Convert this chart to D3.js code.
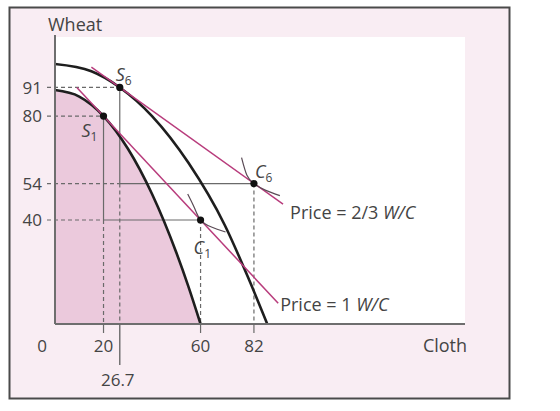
<!DOCTYPE html>
<html>
<head>
<meta charset="utf-8">
<script src="https://cdn.jsdelivr.net/npm/d3@7"></script>
<style>
body { margin: 0; background: #fff; }
text { font-family: "Open Sans", sans-serif; fill: #444; }
</style>
</head>
<body>
<svg id="chart" width="560" height="411"></svg>
<script>
"use strict";

// production possibility frontiers, [cloth, wheat]
const innerPPF = [[0, 90], [10, 87.5], [20, 80], [30, 67.5], [40, 50], [50, 27.5], [55, 14.4], [60, 0]];
const outerPPF = [[0, 100], [15, 97.2], [26.7, 91], [40, 80], [55, 62], [70, 38], [80, 17], [87.5, 0]];
// relative price lines
const priceOne = [[9, 91], [92, 8]];
const priceTwoThirds = [[15, 98.8], [94, 46.1]];
// indifference curves through the consumption points
const indiffC1 = [[54.7, 50], [57.5, 44.6], [60, 40], [64.5, 37.3], [70.3, 35.4]];
const indiffC6 = [[76.9, 64], [79.1, 57.2], [82, 54], [86.9, 51.4], [92.7, 49.4]];
// production (S) and consumption (C) points
const pointNames = ["S", "S", "C", "C"];
const pointSubs = ["1", "6", "1", "6"];
const pointCloth = [20, 26.7, 60, 82];
const pointWheat = [80, 91, 40, 54];
// production point index -> consumption point index
const trades = [[0, 2], [1, 3]];
const xTicks = [0, 20, 60, 82];
const xTickLow = [26.7];
const yTicks = [91, 80, 54, 40];
const priceNames = ["Price = 1 ", "Price = 2/3 "];

const svg = d3.select("#chart");
const plot = { left: 55, right: 465, top: 37, bottom: 324 };

const x = d3.scaleLinear().domain([0, 169]).range([plot.left, plot.right]);
const y = d3.scaleLinear().domain([0, 110.4]).range([plot.bottom, plot.top]);

const magenta = "#b83c7c";
const guide = "#6a6a6a";

// frame and plotting area
svg.append("rect")
    .attr("x", 9.5).attr("y", 7.5)
    .attr("width", 500).attr("height", 391)
    .attr("fill", "#f9edf3")
    .attr("stroke", "#4a4a4a")
    .attr("stroke-width", 2);
svg.append("rect")
    .attr("x", plot.left).attr("y", plot.top)
    .attr("width", plot.right - plot.left).attr("height", plot.bottom - plot.top)
    .attr("fill", "#fff");

const line = d3.line().x(d => x(d[0])).y(d => y(d[1]));
const curve = d3.line().x(d => x(d[0])).y(d => y(d[1])).curve(d3.curveMonotoneX);

// shaded production set before growth
svg.append("path")
    .attr("d", d3.area().x(d => x(d[0])).y0(y(0)).y1(d => y(d[1])).curve(d3.curveMonotoneX)(innerPPF))
    .attr("fill", "#ebc9dc");

// guide lines for each trade triangle
const dash = "4,3";
trades.forEach(t => {
    const s = t[0], c = t[1];
    const g = svg.append("g").attr("stroke", guide).attr("fill", "none").attr("stroke-width", 1.2);
    // dashed lines from the wheat axis
    [pointWheat[s], pointWheat[c]].forEach(w => {
        g.append("line")
            .attr("x1", x(0) - 8).attr("x2", x(pointCloth[s]))
            .attr("y1", y(w)).attr("y2", y(w))
            .attr("stroke-dasharray", dash);
    });
    // trade triangle
    g.append("line")
        .attr("x1", x(pointCloth[s])).attr("x2", x(pointCloth[s]))
        .attr("y1", y(pointWheat[s])).attr("y2", y(pointWheat[c]));
    g.append("line")
        .attr("x1", x(pointCloth[s])).attr("x2", x(pointCloth[c]))
        .attr("y1", y(pointWheat[c])).attr("y2", y(pointWheat[c]));
    // dashed drops to the cloth axis
    [pointCloth[s], pointCloth[c]].forEach(cl => {
        g.append("line")
            .attr("x1", x(cl)).attr("x2", x(cl))
            .attr("y1", y(pointWheat[c])).attr("y2", y(0))
            .attr("stroke-dasharray", dash);
    });
});

// frontiers
[innerPPF, outerPPF].forEach(d => {
    svg.append("path")
        .attr("d", curve(d))
        .attr("fill", "none")
        .attr("stroke", "#1e1e1e")
        .attr("stroke-width", 2.6);
});

// price lines
[priceOne, priceTwoThirds].forEach(d => {
    svg.append("path")
        .attr("d", line(d))
        .attr("fill", "none")
        .attr("stroke", magenta)
        .attr("stroke-width", 1.5);
});

// indifference curves
[indiffC1, indiffC6].forEach(d => {
    svg.append("path")
        .attr("d", d3.line().x(p => x(p[0])).y(p => y(p[1])).curve(d3.curveNatural)(d))
        .attr("fill", "none")
        .attr("stroke", "#5a4a55")
        .attr("stroke-width", 1.2);
});

// axes
svg.append("line")
    .attr("x1", x(0)).attr("x2", x(0))
    .attr("y1", plot.top - 2).attr("y2", y(0))
    .attr("stroke", "#6e6e6e").attr("stroke-width", 2);
svg.append("line")
    .attr("x1", x(0)).attr("x2", plot.right)
    .attr("y1", y(0)).attr("y2", y(0))
    .attr("stroke", "#6e6e6e").attr("stroke-width", 2);

// x ticks below axis
xTicks.filter(v => v > 0).forEach(v => {
    svg.append("line")
        .attr("x1", x(v)).attr("x2", x(v))
        .attr("y1", y(0)).attr("y2", y(0) + 9)
        .attr("stroke", guide).attr("stroke-width", 1.2);
});
xTickLow.forEach(v => {
    svg.append("line")
        .attr("x1", x(v)).attr("x2", x(v))
        .attr("y1", y(0)).attr("y2", y(0) + 41)
        .attr("stroke", guide).attr("stroke-width", 1.4);
});

// points
svg.selectAll(".pt")
    .data(pointCloth)
    .enter()
    .append("circle")
    .attr("class", "pt")
    .attr("cx", d => x(d))
    .attr("cy", (d, i) => y(pointWheat[i]))
    .attr("r", 3.6)
    .attr("fill", "#111");

// tick labels
svg.selectAll(".ytick")
    .data(yTicks)
    .enter()
    .append("text")
    .attr("class", "ytick")
    .attr("x", x(0) - 13)
    .attr("y", d => y(d))
    .attr("dy", "0.36em")
    .attr("text-anchor", "end")
    .style("font-size", "17px")
    .text(d => d);
svg.selectAll(".xtick")
    .data(xTicks)
    .enter()
    .append("text")
    .attr("class", "xtick")
    .attr("x", d => d === 0 ? x(0) - 13 : x(d))
    .attr("y", y(0) + 28)
    .attr("text-anchor", "middle")
    .style("font-size", "17px")
    .text(d => d);
svg.selectAll(".xtickLow")
    .data(xTickLow)
    .enter()
    .append("text")
    .attr("class", "xtickLow")
    .attr("x", d => x(d) - 2)
    .attr("y", y(0) + 62)
    .attr("text-anchor", "middle")
    .style("font-size", "17px")
    .text(d => d);

// axis titles
svg.append("text")
    .attr("x", 48).attr("y", 31)
    .style("font-size", "18px")
    .text("Wheat");
svg.append("text")
    .attr("x", 445).attr("y", y(0) + 28)
    .attr("text-anchor", "middle")
    .style("font-size", "18px")
    .text("Cloth");

// point labels
const labelOffset = [[-22, 21], [-4, -6], [-7, 34], [1, -6]];
pointNames.forEach((n, i) => {
    const t = svg.append("text")
        .attr("x", x(pointCloth[i]) + labelOffset[i][0])
        .attr("y", y(pointWheat[i]) + labelOffset[i][1])
        .style("font-size", "18px")
        .style("font-style", "italic");
    t.append("tspan").text(n);
    t.append("tspan")
        .attr("dy", 4)
        .style("font-size", "12px")
        .style("font-style", "normal")
        .text(pointSubs[i]);
});

// price labels
[priceOne, priceTwoThirds].forEach((d, i) => {
    const end = d[d.length - 1];
    const t = svg.append("text")
        .attr("x", x(end[0]) + (i === 0 ? 2 : 7))
        .attr("y", y(end[1]) + (i === 0 ? 8 : 15))
        .style("font-size", "18px");
    t.append("tspan").text(priceNames[i]);
    t.append("tspan").style("font-style", "italic").text("W/C");
});
</script>
</body>
</html>
